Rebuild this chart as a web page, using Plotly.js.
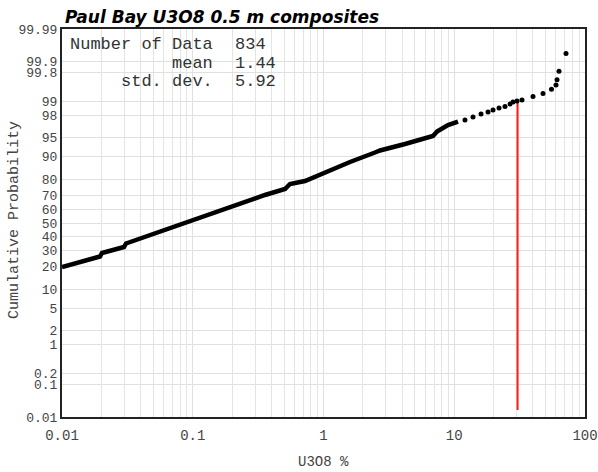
<!DOCTYPE html>
<html>
<head>
<meta charset="utf-8">
<script src="https://cdn.plot.ly/plotly-3.0.1.min.js"></script>
<style>html,body{margin:0;padding:0;background:#fff;}#chart{width:598px;height:472px;}</style>
</head>
<body>
<div id="chart"></div>
<script>
// ---- data ----
// dense part of the cumulative curve (U3O8 %, cumulative probability %)
const denseGrade = [0.01, 0.01257, 0.01637, 0.01953, 0.02023, 0.02543, 0.02981, 0.03087, 0.0471, 0.07314, 0.09528, 0.148, 0.2298, 0.3569, 0.5077, 0.5543, 0.7219, 1.082, 1.595, 2.477, 2.705, 4.201, 5.975, 6.88, 7.382, 8.96, 10.68];
const denseProb  = [19.96, 22.16, 24.2, 26.04, 28.26, 30.57, 32.28, 34.72, 40.9, 47.71, 51.15, 58.35, 64.93, 70.43, 74.27, 77.27, 78.96, 84.05, 87.89, 91.17, 91.77, 93.5, 94.74, 95.23, 96.03, 96.98, 97.41];
// upper tail: individual samples
const tailGrade = [12.08, 13.92, 16.02, 18.12, 19.79, 22.0, 24.44, 26.7, 28.14, 30.2, 32.97, 40.02, 47.73, 55.43, 60.01, 61.08, 63.27, 71.56];
const tailProb  = [97.58, 97.89, 98.17, 98.33, 98.48, 98.62, 98.72, 98.87, 98.98, 99.03, 99.08, 99.23, 99.35, 99.48, 99.59, 99.7, 99.82, 99.942];
// cutoff marker
const cutGrade = [30.5, 30.5];
const cutProb  = [0.017, 99.08];
// axis ticks
const probTicks = [0.01, 0.1, 0.2, 1, 2, 5, 10, 20, 30, 40, 50, 60, 70, 80, 90, 95, 98, 99, 99.8, 99.9, 99.99];
const probTickText = ['0.01', '0.1', '0.2', '1', '2', '5', '10', '20', '30', '40', '50', '60', '70', '80', '90', '95', '98', '99', '99.8', '99.9', '99.99'];
const gradeTicks = [0.01, 0.1, 1, 10, 100];
const gradeTickText = ['0.01', '0.1', '1', '10', '100'];
const statLabels = ['Number of Data', 'mean', 'std. dev.'];
const statValues = ['834', '1.44', '5.92'];

// inverse normal CDF (Acklam) – probability axis scale
function probit(p) {
  const a = [-3.969683028665376e+01, 2.209460984245205e+02, -2.759285104469687e+02, 1.383577518672690e+02, -3.066479806614716e+01, 2.506628277459239e+00];
  const b = [-5.447609879822406e+01, 1.615858368580409e+02, -1.556989798598866e+02, 6.680131188771972e+01, -1.328068155288572e+01];
  const c = [-7.784894002430293e-03, -3.223964580411365e-01, -2.400758277161838e+00, -2.549732539343734e+00, 4.374664141464968e+00, 2.938163982698783e+00];
  const d = [7.784695709041462e-03, 3.224671290700398e-01, 2.445134137142996e+00, 3.754408661907416e+00];
  const pl = 0.02425;
  let q, r;
  if (p < pl) {
    q = Math.sqrt(-2 * Math.log(p));
    return (((((c[0]*q+c[1])*q+c[2])*q+c[3])*q+c[4])*q+c[5]) / ((((d[0]*q+d[1])*q+d[2])*q+d[3])*q+1);
  } else if (p <= 1 - pl) {
    q = p - 0.5; r = q*q;
    return (((((a[0]*r+a[1])*r+a[2])*r+a[3])*r+a[4])*r+a[5])*q / (((((b[0]*r+b[1])*r+b[2])*r+b[3])*r+b[4])*r+1);
  } else {
    q = Math.sqrt(-2 * Math.log(1 - p));
    return -(((((c[0]*q+c[1])*q+c[2])*q+c[3])*q+c[4])*q+c[5]) / ((((d[0]*q+d[1])*q+d[2])*q+d[3])*q+1);
  }
}
const Z = arr => arr.map(v => probit(v / 100));

const mono = 'Liberation Mono, Courier New, monospace';
const traces = [
  {x: cutGrade, y: Z(cutProb), mode: 'lines', line: {color: '#ff1a1a', width: 2}, hoverinfo: 'skip'},
  {x: denseGrade, y: Z(denseProb), mode: 'lines', line: {color: '#000', width: 4.5}},
  {x: tailGrade, y: Z(tailProb), mode: 'markers', marker: {color: '#000', size: 5}}
];

const L = 62, R = 585, T = 29, B = 417;
const px = v => (v - L) / (R - L);
const py = v => (B - v) / (B - T);

const annotations = [];
statLabels.forEach((s, i) => {
  const yy = [45, 63, 81.5][i];
  annotations.push({text: s, xref: 'paper', yref: 'paper', x: px(215), y: py(yy), xanchor: 'right', yanchor: 'middle', showarrow: false, font: {family: mono, size: 17, color: '#333'}});
  annotations.push({text: statValues[i], xref: 'paper', yref: 'paper', x: px(233), y: py(yy), xanchor: 'left', yanchor: 'middle', showarrow: false, font: {family: mono, size: 17, color: '#333'}});
});
annotations.push({text: 'Cumulative Probability', xref: 'paper', yref: 'paper', x: px(14), y: py(220), xanchor: 'center', yanchor: 'middle', textangle: -90, showarrow: false, font: {family: mono, size: 15, color: '#444'}});
annotations.push({text: 'U3O8 %', xref: 'paper', yref: 'paper', x: px(323), y: py(462), xanchor: 'center', yanchor: 'middle', showarrow: false, font: {family: mono, size: 14, color: '#444'}});

const layout = {
  width: 598, height: 472,
  margin: {l: L, r: 598 - R, t: T, b: 472 - B, pad: 0},
  paper_bgcolor: '#fff', plot_bgcolor: '#fff',
  showlegend: false,
  title: {text: '<b><i>Paul Bay U3O8 0.5 m composites</i></b>', xref: 'container', yref: 'container', x: 65/598, xanchor: 'left', y: 1 - 17/472, yanchor: 'middle', font: {family: 'DejaVu Sans, Arial, sans-serif', size: 17, color: '#000'}},
  xaxis: {
    type: 'log', range: [-2, 2],
    tickvals: gradeTicks, ticktext: gradeTickText, ticks: '',
    ticklabelstandoff: 4,
    tickfont: {family: mono, size: 14, color: '#444'},
    showgrid: true, gridcolor: '#e0e0e0', gridwidth: 1,
    minor: {tickvals: [0.02,0.03,0.04,0.05,0.06,0.07,0.08,0.09,0.2,0.3,0.4,0.5,0.6,0.7,0.8,0.9,2,3,4,5,6,7,8,9,20,30,40,50,60,70,80,90], showgrid: true, gridcolor: '#e4e4e4', gridwidth: 1, ticks: ''},
    showline: true, linecolor: '#222', linewidth: 2, mirror: true, zeroline: false
  },
  yaxis: {
    range: [probit(0.0001), probit(0.9999)],
    tickvals: Z(probTicks), ticktext: probTickText, ticks: '',
    tickfont: {family: mono, size: 13, color: '#444'},
    showgrid: true, gridcolor: '#e0e0e0', gridwidth: 1,
    showline: true, linecolor: '#222', linewidth: 2, mirror: true, zeroline: false
  },
  annotations: annotations
};

Plotly.newPlot('chart', traces, layout, {staticPlot: true, displayModeBar: false});
</script>
</body>
</html>
